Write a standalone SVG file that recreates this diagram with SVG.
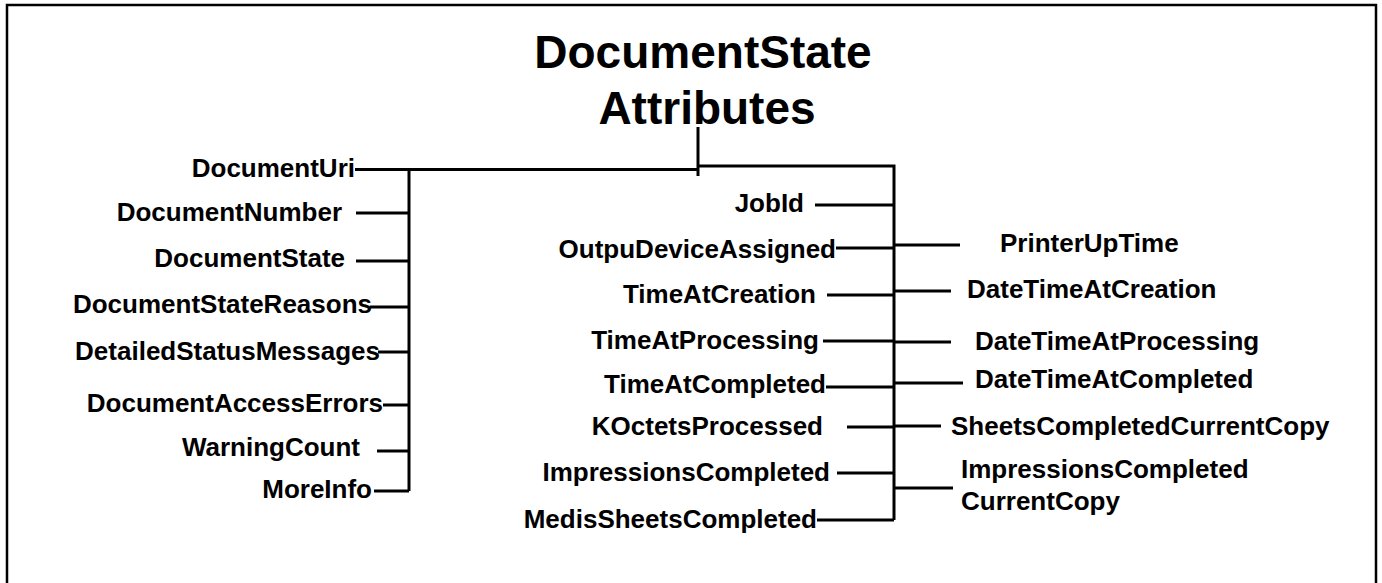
<svg xmlns="http://www.w3.org/2000/svg" width="1382" height="583" viewBox="0 0 1382 583">
<style>
.t{font-family:"Liberation Sans",Arial,sans-serif;font-weight:bold;font-size:26px;fill:#000}
.e{text-anchor:end}
.title{font-family:"Liberation Sans",Arial,sans-serif;font-weight:bold;font-size:46px;fill:#000;text-anchor:middle}
.c{stroke:#000;stroke-width:3;fill:none}
</style>
<rect width="1382" height="583" fill="#fff"/>
<path d="M7,583 V5 H1376 V583" fill="none" stroke="#000" stroke-width="2.5"/>
<g id="title">
<text class="title" x="703" y="68">DocumentState</text>
<text class="title" x="707" y="124">Attributes</text>
</g>
<g id="connectors" class="c">
<line x1="698" y1="127" x2="698" y2="176"/>
<line x1="355" y1="169.5" x2="698" y2="169.5"/>
<polyline points="698,166 894,166 894,520"/>
<polyline points="409,169.5 409,491"/>
<line x1="356" y1="213" x2="409" y2="213"/>
<line x1="356" y1="261" x2="409" y2="261"/>
<line x1="370" y1="307" x2="409" y2="307"/>
<line x1="378" y1="352" x2="409" y2="352"/>
<line x1="383" y1="405" x2="409" y2="405"/>
<line x1="377" y1="451" x2="409" y2="451"/>
<line x1="374" y1="491" x2="409" y2="491"/>
<line x1="815" y1="205" x2="894" y2="205"/>
<line x1="836" y1="248" x2="894" y2="248"/>
<line x1="827" y1="295" x2="894" y2="295"/>
<line x1="823" y1="341" x2="894" y2="341"/>
<line x1="826" y1="387" x2="894" y2="387"/>
<line x1="847" y1="427" x2="894" y2="427"/>
<line x1="837" y1="473" x2="894" y2="473"/>
<line x1="817" y1="520" x2="894" y2="520"/>
<line x1="894" y1="245" x2="960" y2="245"/>
<line x1="894" y1="291" x2="951" y2="291"/>
<line x1="894" y1="342" x2="951" y2="342"/>
<line x1="894" y1="383" x2="963" y2="383"/>
<line x1="894" y1="426" x2="941" y2="426"/>
<line x1="894" y1="488" x2="953" y2="488"/>
</g>
<g id="DocumentUri"><text class="t e" x="355" y="177">DocumentUri</text></g>
<g id="DocumentNumber"><text class="t e" x="342" y="221">DocumentNumber</text></g>
<g id="DocumentState"><text class="t e" x="345" y="267">DocumentState</text></g>
<g id="DocumentStateReasons"><text class="t e" x="372" y="313">DocumentStateReasons</text></g>
<g id="DetailedStatusMessages"><text class="t e" x="380" y="360">DetailedStatusMessages</text></g>
<g id="DocumentAccessErrors"><text class="t e" x="383" y="412">DocumentAccessErrors</text></g>
<g id="WarningCount"><text class="t e" x="360" y="456">WarningCount</text></g>
<g id="MoreInfo"><text class="t e" x="372" y="498">MoreInfo</text></g>
<g id="JobId"><text class="t e" x="804" y="212">JobId</text></g>
<g id="OutpuDeviceAssigned"><text class="t e" x="836" y="258">OutpuDeviceAssigned</text></g>
<g id="TimeAtCreation"><text class="t e" x="816" y="303">TimeAtCreation</text></g>
<g id="TimeAtProcessing"><text class="t e" x="819" y="349">TimeAtProcessing</text></g>
<g id="TimeAtCompleted"><text class="t e" x="826" y="393">TimeAtCompleted</text></g>
<g id="KOctetsProcessed"><text class="t e" x="823" y="435">KOctetsProcessed</text></g>
<g id="ImpressionsCompleted"><text class="t e" x="830" y="481">ImpressionsCompleted</text></g>
<g id="MedisSheetsCompleted"><text class="t e" x="817" y="528">MedisSheetsCompleted</text></g>
<g id="PrinterUpTime"><text class="t" x="1000" y="252">PrinterUpTime</text></g>
<g id="DateTimeAtCreation"><text class="t" x="967" y="298">DateTimeAtCreation</text></g>
<g id="DateTimeAtProcessing"><text class="t" x="975" y="350">DateTimeAtProcessing</text></g>
<g id="DateTimeAtCompleted"><text class="t" x="975" y="388">DateTimeAtCompleted</text></g>
<g id="SheetsCompletedCurrentCopy"><text class="t" x="951" y="435">SheetsCompletedCurrentCopy</text></g>
<g id="ImpressionsCompletedCurrentCopy"><text class="t" x="961" y="478">ImpressionsCompleted</text><text class="t" x="961" y="510">CurrentCopy</text></g>
</svg>
